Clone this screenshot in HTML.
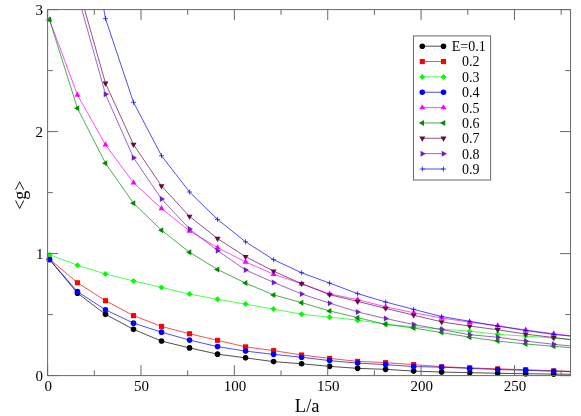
<!DOCTYPE html>
<html><head><meta charset="utf-8"><title>chart</title>
<style>html,body{margin:0;padding:0;background:#fff}body{width:581px;height:416px;position:relative;overflow:hidden;font-family:"Liberation Serif",serif}</style></head>
<body>
<svg width="581" height="416" viewBox="0 0 581 416" style="position:absolute;left:0;top:0;will-change:transform">
<defs><clipPath id="c"><rect x="47.60" y="9.60" width="522.90" height="366.00"/></clipPath></defs>
<rect width="581" height="416" fill="#fff"/>
<polyline clip-path="url(#c)" points="49.47,259.46 77.48,293.13 105.49,314.36 133.50,329.36 161.52,341.07 189.53,347.91 217.54,354.13 245.55,357.86 273.57,361.61 301.58,363.77 329.59,366.35 357.61,368.35 385.62,369.35 413.63,371.09 441.64,372.06 469.66,372.67 497.67,373.28 525.68,373.71 553.69,374.08 581.71,374.38" fill="none" stroke="#000000" stroke-width="0.7"/>
<circle cx="49.47" cy="259.46" r="2.80" fill="#000000"/>
<circle cx="77.48" cy="293.13" r="2.80" fill="#000000"/>
<circle cx="105.49" cy="314.36" r="2.80" fill="#000000"/>
<circle cx="133.50" cy="329.36" r="2.80" fill="#000000"/>
<circle cx="161.52" cy="341.07" r="2.80" fill="#000000"/>
<circle cx="189.53" cy="347.91" r="2.80" fill="#000000"/>
<circle cx="217.54" cy="354.13" r="2.80" fill="#000000"/>
<circle cx="245.55" cy="357.86" r="2.80" fill="#000000"/>
<circle cx="273.57" cy="361.61" r="2.80" fill="#000000"/>
<circle cx="301.58" cy="363.77" r="2.80" fill="#000000"/>
<circle cx="329.59" cy="366.35" r="2.80" fill="#000000"/>
<circle cx="357.61" cy="368.35" r="2.80" fill="#000000"/>
<circle cx="385.62" cy="369.35" r="2.80" fill="#000000"/>
<circle cx="413.63" cy="371.09" r="2.80" fill="#000000"/>
<circle cx="441.64" cy="372.06" r="2.80" fill="#000000"/>
<circle cx="469.66" cy="372.67" r="2.80" fill="#000000"/>
<circle cx="497.67" cy="373.28" r="2.80" fill="#000000"/>
<circle cx="525.68" cy="373.71" r="2.80" fill="#000000"/>
<circle cx="553.69" cy="374.08" r="2.80" fill="#000000"/>
<polyline clip-path="url(#c)" points="49.47,259.09 77.48,282.76 105.49,300.69 133.50,315.64 161.52,326.43 189.53,333.75 217.54,340.34 245.55,346.87 273.57,350.61 301.58,354.98 329.59,358.36 357.61,361.36 385.62,362.61 413.63,364.62 441.64,366.69 469.66,367.85 497.67,368.85 525.68,369.70 553.69,370.84 581.71,371.45" fill="none" stroke="#ff0000" stroke-width="0.7"/>
<rect x="46.92" y="256.54" width="5.10" height="5.10" fill="#ff0000"/>
<rect x="74.93" y="280.21" width="5.10" height="5.10" fill="#ff0000"/>
<rect x="102.94" y="298.14" width="5.10" height="5.10" fill="#ff0000"/>
<rect x="130.95" y="313.09" width="5.10" height="5.10" fill="#ff0000"/>
<rect x="158.97" y="323.88" width="5.10" height="5.10" fill="#ff0000"/>
<rect x="186.98" y="331.20" width="5.10" height="5.10" fill="#ff0000"/>
<rect x="214.99" y="337.79" width="5.10" height="5.10" fill="#ff0000"/>
<rect x="243.00" y="344.32" width="5.10" height="5.10" fill="#ff0000"/>
<rect x="271.02" y="348.06" width="5.10" height="5.10" fill="#ff0000"/>
<rect x="299.03" y="352.43" width="5.10" height="5.10" fill="#ff0000"/>
<rect x="327.04" y="355.81" width="5.10" height="5.10" fill="#ff0000"/>
<rect x="355.06" y="358.81" width="5.10" height="5.10" fill="#ff0000"/>
<rect x="383.07" y="360.06" width="5.10" height="5.10" fill="#ff0000"/>
<rect x="411.08" y="362.07" width="5.10" height="5.10" fill="#ff0000"/>
<rect x="439.09" y="364.14" width="5.10" height="5.10" fill="#ff0000"/>
<rect x="467.11" y="365.30" width="5.10" height="5.10" fill="#ff0000"/>
<rect x="495.12" y="366.30" width="5.10" height="5.10" fill="#ff0000"/>
<rect x="523.13" y="367.15" width="5.10" height="5.10" fill="#ff0000"/>
<rect x="551.14" y="368.29" width="5.10" height="5.10" fill="#ff0000"/>
<polyline clip-path="url(#c)" points="49.47,254.70 77.48,265.19 105.49,273.97 133.50,280.93 161.52,287.39 189.53,294.10 217.54,299.35 245.55,304.11 273.57,309.11 301.58,314.23 329.59,317.16 357.61,320.14 385.62,324.12 413.63,326.80 441.64,329.12 469.66,331.13 497.67,334.36 525.68,336.10 553.69,338.02 581.71,340.55" fill="none" stroke="#00ff00" stroke-width="0.7"/>
<polygon points="49.47,251.70 52.47,254.70 49.47,257.70 46.47,254.70" fill="#00ff00"/>
<polygon points="77.48,262.19 80.48,265.19 77.48,268.19 74.48,265.19" fill="#00ff00"/>
<polygon points="105.49,270.97 108.49,273.97 105.49,276.97 102.49,273.97" fill="#00ff00"/>
<polygon points="133.50,277.93 136.50,280.93 133.50,283.93 130.50,280.93" fill="#00ff00"/>
<polygon points="161.52,284.39 164.52,287.39 161.52,290.39 158.52,287.39" fill="#00ff00"/>
<polygon points="189.53,291.10 192.53,294.10 189.53,297.10 186.53,294.10" fill="#00ff00"/>
<polygon points="217.54,296.35 220.54,299.35 217.54,302.35 214.54,299.35" fill="#00ff00"/>
<polygon points="245.55,301.11 248.55,304.11 245.55,307.11 242.55,304.11" fill="#00ff00"/>
<polygon points="273.57,306.11 276.57,309.11 273.57,312.11 270.57,309.11" fill="#00ff00"/>
<polygon points="301.58,311.23 304.58,314.23 301.58,317.23 298.58,314.23" fill="#00ff00"/>
<polygon points="329.59,314.16 332.59,317.16 329.59,320.16 326.59,317.16" fill="#00ff00"/>
<polygon points="357.61,317.14 360.61,320.14 357.61,323.14 354.61,320.14" fill="#00ff00"/>
<polygon points="385.62,321.12 388.62,324.12 385.62,327.12 382.62,324.12" fill="#00ff00"/>
<polygon points="413.63,323.80 416.63,326.80 413.63,329.80 410.63,326.80" fill="#00ff00"/>
<polygon points="441.64,326.12 444.64,329.12 441.64,332.12 438.64,329.12" fill="#00ff00"/>
<polygon points="469.66,328.13 472.66,331.13 469.66,334.13 466.66,331.13" fill="#00ff00"/>
<polygon points="497.67,331.36 500.67,334.36 497.67,337.36 494.67,334.36" fill="#00ff00"/>
<polygon points="525.68,333.10 528.68,336.10 525.68,339.10 522.68,336.10" fill="#00ff00"/>
<polygon points="553.69,335.02 556.69,338.02 553.69,341.02 550.69,338.02" fill="#00ff00"/>
<polyline clip-path="url(#c)" points="49.47,259.46 77.48,291.66 105.49,309.84 133.50,323.14 161.52,332.17 189.53,340.10 217.54,346.61 245.55,351.11 273.57,354.37 301.58,357.24 329.59,360.61 357.61,363.11 385.62,364.62 413.63,366.57 441.64,367.18 469.66,368.40 497.67,369.50 525.68,370.29 553.69,371.24 581.71,371.94" fill="none" stroke="#0000ff" stroke-width="0.7"/>
<circle cx="49.47" cy="259.46" r="2.80" fill="#0000ff"/>
<circle cx="77.48" cy="291.66" r="2.80" fill="#0000ff"/>
<circle cx="105.49" cy="309.84" r="2.80" fill="#0000ff"/>
<circle cx="133.50" cy="323.14" r="2.80" fill="#0000ff"/>
<circle cx="161.52" cy="332.17" r="2.80" fill="#0000ff"/>
<circle cx="189.53" cy="340.10" r="2.80" fill="#0000ff"/>
<circle cx="217.54" cy="346.61" r="2.80" fill="#0000ff"/>
<circle cx="245.55" cy="351.11" r="2.80" fill="#0000ff"/>
<circle cx="273.57" cy="354.37" r="2.80" fill="#0000ff"/>
<circle cx="301.58" cy="357.24" r="2.80" fill="#0000ff"/>
<circle cx="329.59" cy="360.61" r="2.80" fill="#0000ff"/>
<circle cx="357.61" cy="363.11" r="2.80" fill="#0000ff"/>
<circle cx="385.62" cy="364.62" r="2.80" fill="#0000ff"/>
<circle cx="413.63" cy="366.57" r="2.80" fill="#0000ff"/>
<circle cx="441.64" cy="367.18" r="2.80" fill="#0000ff"/>
<circle cx="469.66" cy="368.40" r="2.80" fill="#0000ff"/>
<circle cx="497.67" cy="369.50" r="2.80" fill="#0000ff"/>
<circle cx="525.68" cy="370.29" r="2.80" fill="#0000ff"/>
<circle cx="553.69" cy="371.24" r="2.80" fill="#0000ff"/>
<polyline clip-path="url(#c)" points="49.47,19.73 77.48,95.00 105.49,144.78 133.50,182.72 161.52,208.46 189.53,230.91 217.54,247.62 245.55,261.90 273.57,274.16 301.58,283.73 329.59,293.86 357.61,299.64 385.62,306.85 413.63,312.65 441.64,318.02 469.66,322.16 497.67,325.70 525.68,329.97 553.69,333.78 581.71,336.99" fill="none" stroke="#ff00ff" stroke-width="0.7"/>
<polygon points="49.47,16.26 46.47,21.46 52.47,21.46" fill="#ff00ff"/>
<polygon points="77.48,91.54 74.48,96.73 80.48,96.73" fill="#ff00ff"/>
<polygon points="105.49,141.31 102.49,146.51 108.49,146.51" fill="#ff00ff"/>
<polygon points="133.50,179.25 130.50,184.45 136.50,184.45" fill="#ff00ff"/>
<polygon points="161.52,205.00 158.52,210.19 164.52,210.19" fill="#ff00ff"/>
<polygon points="189.53,227.44 186.53,232.64 192.53,232.64" fill="#ff00ff"/>
<polygon points="217.54,244.16 214.54,249.35 220.54,249.35" fill="#ff00ff"/>
<polygon points="245.55,258.43 242.55,263.63 248.55,263.63" fill="#ff00ff"/>
<polygon points="273.57,270.69 270.57,275.89 276.57,275.89" fill="#ff00ff"/>
<polygon points="301.58,280.27 298.58,285.47 304.58,285.47" fill="#ff00ff"/>
<polygon points="329.59,290.40 326.59,295.59 332.59,295.59" fill="#ff00ff"/>
<polygon points="357.61,296.18 354.61,301.37 360.61,301.37" fill="#ff00ff"/>
<polygon points="385.62,303.39 382.62,308.59 388.62,308.59" fill="#ff00ff"/>
<polygon points="413.63,309.18 410.63,314.38 416.63,314.38" fill="#ff00ff"/>
<polygon points="441.64,314.55 438.64,319.75 444.64,319.75" fill="#ff00ff"/>
<polygon points="469.66,318.70 466.66,323.90 472.66,323.90" fill="#ff00ff"/>
<polygon points="497.67,322.24 494.67,327.43 500.67,327.43" fill="#ff00ff"/>
<polygon points="525.68,326.51 522.68,331.70 528.68,331.70" fill="#ff00ff"/>
<polygon points="553.69,330.31 550.69,335.51 556.69,335.51" fill="#ff00ff"/>
<polyline clip-path="url(#c)" points="49.47,19.73 77.48,108.30 105.49,163.20 133.50,203.21 161.52,230.18 189.53,252.26 217.54,269.46 245.55,283.12 273.57,294.90 301.58,302.64 329.59,310.94 357.61,317.65 385.62,324.36 413.63,328.02 441.64,332.60 469.66,337.18 497.67,341.07 525.68,343.97 553.69,346.32 581.71,348.55" fill="none" stroke="#008b00" stroke-width="0.7"/>
<polygon points="46.00,19.73 51.20,16.73 51.20,22.73" fill="#008b00"/>
<polygon points="74.02,108.30 79.21,105.30 79.21,111.30" fill="#008b00"/>
<polygon points="102.03,163.20 107.22,160.20 107.22,166.20" fill="#008b00"/>
<polygon points="130.04,203.21 135.24,200.21 135.24,206.21" fill="#008b00"/>
<polygon points="158.05,230.18 163.25,227.18 163.25,233.18" fill="#008b00"/>
<polygon points="186.07,252.26 191.26,249.26 191.26,255.26" fill="#008b00"/>
<polygon points="214.08,269.46 219.27,266.46 219.27,272.46" fill="#008b00"/>
<polygon points="242.09,283.12 247.29,280.12 247.29,286.12" fill="#008b00"/>
<polygon points="270.10,294.90 275.30,291.90 275.30,297.90" fill="#008b00"/>
<polygon points="298.12,302.64 303.31,299.64 303.31,305.64" fill="#008b00"/>
<polygon points="326.13,310.94 331.32,307.94 331.32,313.94" fill="#008b00"/>
<polygon points="354.14,317.65 359.34,314.65 359.34,320.65" fill="#008b00"/>
<polygon points="382.15,324.36 387.35,321.36 387.35,327.36" fill="#008b00"/>
<polygon points="410.17,328.02 415.36,325.02 415.36,331.02" fill="#008b00"/>
<polygon points="438.18,332.60 443.37,329.60 443.37,335.60" fill="#008b00"/>
<polygon points="466.19,337.18 471.39,334.18 471.39,340.18" fill="#008b00"/>
<polygon points="494.20,341.07 499.40,338.07 499.40,344.07" fill="#008b00"/>
<polygon points="522.22,343.97 527.41,340.97 527.41,346.97" fill="#008b00"/>
<polygon points="550.23,346.32 555.42,343.32 555.42,349.32" fill="#008b00"/>
<polyline clip-path="url(#c)" points="49.47,-185.60 77.48,-15.65 105.49,83.29 133.50,144.53 161.52,186.01 189.53,216.39 217.54,238.59 245.55,256.65 273.57,271.17 301.58,283.61 329.59,294.65 357.61,301.42 385.62,308.38 413.63,315.15 441.64,321.86 469.66,326.12 497.67,329.73 525.68,334.12 553.69,337.54 581.71,340.95" fill="none" stroke="#670748" stroke-width="0.7"/>
<polygon points="105.49,86.75 102.49,81.56 108.49,81.56" fill="#670748"/>
<polygon points="133.50,148.00 130.50,142.80 136.50,142.80" fill="#670748"/>
<polygon points="161.52,189.48 158.52,184.28 164.52,184.28" fill="#670748"/>
<polygon points="189.53,219.85 186.53,214.66 192.53,214.66" fill="#670748"/>
<polygon points="217.54,242.06 214.54,236.86 220.54,236.86" fill="#670748"/>
<polygon points="245.55,260.11 242.55,254.92 248.55,254.92" fill="#670748"/>
<polygon points="273.57,274.63 270.57,269.44 276.57,269.44" fill="#670748"/>
<polygon points="301.58,287.08 298.58,281.88 304.58,281.88" fill="#670748"/>
<polygon points="329.59,298.12 326.59,292.92 332.59,292.92" fill="#670748"/>
<polygon points="357.61,304.89 354.61,299.69 360.61,299.69" fill="#670748"/>
<polygon points="385.62,311.84 382.62,306.65 388.62,306.65" fill="#670748"/>
<polygon points="413.63,318.61 410.63,313.42 416.63,313.42" fill="#670748"/>
<polygon points="441.64,325.32 438.64,320.13 444.64,320.13" fill="#670748"/>
<polygon points="469.66,329.58 466.66,324.38 472.66,324.38" fill="#670748"/>
<polygon points="497.67,333.19 494.67,328.00 500.67,328.00" fill="#670748"/>
<polygon points="525.68,337.58 522.68,332.39 528.68,332.39" fill="#670748"/>
<polygon points="553.69,341.00 550.69,335.80 556.69,335.80" fill="#670748"/>
<polyline clip-path="url(#c)" points="49.47,-161.20 77.48,-6.02 105.49,94.27 133.50,157.71 161.52,198.94 189.53,228.96 217.54,250.67 245.55,269.95 273.57,282.39 301.58,293.98 329.59,303.13 357.61,311.92 385.62,318.50 413.63,324.54 441.64,329.57 469.66,334.73 497.67,337.23 525.68,341.07 553.69,344.34 581.71,346.91" fill="none" stroke="#7221bc" stroke-width="0.7"/>
<polygon points="108.96,94.27 103.76,91.27 103.76,97.27" fill="#7221bc"/>
<polygon points="136.97,157.71 131.77,154.71 131.77,160.71" fill="#7221bc"/>
<polygon points="164.98,198.94 159.79,195.94 159.79,201.94" fill="#7221bc"/>
<polygon points="192.99,228.96 187.80,225.96 187.80,231.96" fill="#7221bc"/>
<polygon points="221.01,250.67 215.81,247.67 215.81,253.67" fill="#7221bc"/>
<polygon points="249.02,269.95 243.82,266.95 243.82,272.95" fill="#7221bc"/>
<polygon points="277.03,282.39 271.84,279.39 271.84,285.39" fill="#7221bc"/>
<polygon points="305.04,293.98 299.85,290.98 299.85,296.98" fill="#7221bc"/>
<polygon points="333.06,303.13 327.86,300.13 327.86,306.13" fill="#7221bc"/>
<polygon points="361.07,311.92 355.87,308.92 355.87,314.92" fill="#7221bc"/>
<polygon points="389.08,318.50 383.89,315.50 383.89,321.50" fill="#7221bc"/>
<polygon points="417.09,324.54 411.90,321.54 411.90,327.54" fill="#7221bc"/>
<polygon points="445.11,329.57 439.91,326.57 439.91,332.57" fill="#7221bc"/>
<polygon points="473.12,334.73 467.92,331.73 467.92,337.73" fill="#7221bc"/>
<polygon points="501.13,337.23 495.94,334.23 495.94,340.23" fill="#7221bc"/>
<polygon points="529.14,341.07 523.95,338.07 523.95,344.07" fill="#7221bc"/>
<polygon points="557.16,344.34 551.96,341.34 551.96,347.34" fill="#7221bc"/>
<polyline clip-path="url(#c)" points="49.47,-417.40 77.48,-136.80 105.49,18.63 133.50,102.32 161.52,155.76 189.53,191.99 217.54,219.44 245.55,241.77 273.57,259.70 301.58,272.75 329.59,283.12 357.61,293.62 385.62,302.03 413.63,309.35 441.64,316.55 469.66,321.27 497.67,326.10 525.68,330.51 553.69,334.36 581.71,337.26" fill="none" stroke="#0000ff" stroke-width="0.7"/>
<path d="M102.94 18.63H108.04M105.49 16.08V21.18" stroke="#0000ff" stroke-width="0.7" fill="none"/>
<path d="M130.95 102.32H136.06M133.50 99.77V104.87" stroke="#0000ff" stroke-width="0.7" fill="none"/>
<path d="M158.97 155.76H164.07M161.52 153.21V158.31" stroke="#0000ff" stroke-width="0.7" fill="none"/>
<path d="M186.98 191.99H192.08M189.53 189.44V194.54" stroke="#0000ff" stroke-width="0.7" fill="none"/>
<path d="M214.99 219.44H220.09M217.54 216.89V221.99" stroke="#0000ff" stroke-width="0.7" fill="none"/>
<path d="M243.00 241.77H248.10M245.55 239.22V244.32" stroke="#0000ff" stroke-width="0.7" fill="none"/>
<path d="M271.02 259.70H276.12M273.57 257.15V262.25" stroke="#0000ff" stroke-width="0.7" fill="none"/>
<path d="M299.03 272.75H304.13M301.58 270.20V275.30" stroke="#0000ff" stroke-width="0.7" fill="none"/>
<path d="M327.04 283.12H332.14M329.59 280.57V285.67" stroke="#0000ff" stroke-width="0.7" fill="none"/>
<path d="M355.06 293.62H360.16M357.61 291.07V296.17" stroke="#0000ff" stroke-width="0.7" fill="none"/>
<path d="M383.07 302.03H388.17M385.62 299.48V304.58" stroke="#0000ff" stroke-width="0.7" fill="none"/>
<path d="M411.08 309.35H416.18M413.63 306.80V311.90" stroke="#0000ff" stroke-width="0.7" fill="none"/>
<path d="M439.09 316.55H444.19M441.64 314.00V319.10" stroke="#0000ff" stroke-width="0.7" fill="none"/>
<path d="M467.11 321.27H472.21M469.66 318.72V323.82" stroke="#0000ff" stroke-width="0.7" fill="none"/>
<path d="M495.12 326.10H500.22M497.67 323.55V328.65" stroke="#0000ff" stroke-width="0.7" fill="none"/>
<path d="M523.13 330.51H528.23M525.68 327.96V333.06" stroke="#0000ff" stroke-width="0.7" fill="none"/>
<path d="M551.14 334.36H556.24M553.69 331.81V336.91" stroke="#0000ff" stroke-width="0.7" fill="none"/>
<path d="M47.60 375.60v-10.50M47.60 9.60v10.50M94.29 375.60v-5.20M94.29 9.60v5.20M140.97 375.60v-10.50M140.97 9.60v10.50M187.66 375.60v-5.20M187.66 9.60v5.20M234.35 375.60v-10.50M234.35 9.60v10.50M281.04 375.60v-5.20M281.04 9.60v5.20M327.73 375.60v-10.50M327.73 9.60v10.50M374.41 375.60v-5.20M374.41 9.60v5.20M421.10 375.60v-10.50M421.10 9.60v10.50M467.79 375.60v-5.20M467.79 9.60v5.20M514.48 375.60v-10.50M514.48 9.60v10.50M561.16 375.60v-5.20M561.16 9.60v5.20M47.60 375.60h10.50M570.50 375.60h-10.50M47.60 314.60h5.20M570.50 314.60h-5.20M47.60 253.60h10.50M570.50 253.60h-10.50M47.60 192.60h5.20M570.50 192.60h-5.20M47.60 131.60h10.50M570.50 131.60h-10.50M47.60 70.60h5.20M570.50 70.60h-5.20M47.60 9.60h10.50M570.50 9.60h-10.50" stroke="#686868" stroke-width="1" fill="none"/>
<rect x="47.60" y="9.60" width="522.90" height="366.00" fill="none" stroke="#686868" stroke-width="1"/>
<text x="48.20" y="391.3" font-size="15" text-anchor="middle" font-family="Liberation Serif, serif" fill="#000">0</text>
<text x="141.57" y="391.3" font-size="15" text-anchor="middle" font-family="Liberation Serif, serif" fill="#000">50</text>
<text x="234.95" y="391.3" font-size="15" text-anchor="middle" font-family="Liberation Serif, serif" fill="#000">100</text>
<text x="328.33" y="391.3" font-size="15" text-anchor="middle" font-family="Liberation Serif, serif" fill="#000">150</text>
<text x="421.70" y="391.3" font-size="15" text-anchor="middle" font-family="Liberation Serif, serif" fill="#000">200</text>
<text x="515.08" y="391.3" font-size="15" text-anchor="middle" font-family="Liberation Serif, serif" fill="#000">250</text>
<text x="42.9" y="380.80" font-size="15" text-anchor="end" font-family="Liberation Serif, serif" fill="#000">0</text>
<text x="43.4" y="258.80" font-size="15" text-anchor="end" font-family="Liberation Serif, serif" fill="#000">1</text>
<text x="42.9" y="136.80" font-size="15" text-anchor="end" font-family="Liberation Serif, serif" fill="#000">2</text>
<text x="42.9" y="14.80" font-size="15" text-anchor="end" font-family="Liberation Serif, serif" fill="#000">3</text>
<text x="307.2" y="411.9" font-size="18.5" text-anchor="middle" font-family="Liberation Serif, serif" fill="#000">L/a</text>
<text transform="translate(25.5,195.2) rotate(-90)" font-size="18" text-anchor="middle" font-family="Liberation Serif, serif" fill="#000">&lt;g&gt;</text>
<rect x="413.5" y="35.9" width="77.1" height="144.1" fill="#fff" stroke="#686868" stroke-width="1"/>
<path d="M422.3 46.20H443.5" stroke="#000000" stroke-width="0.7"/>
<circle cx="422.30" cy="46.20" r="2.80" fill="#000000"/>
<circle cx="443.50" cy="46.20" r="2.80" fill="#000000"/>
<text x="451.7" y="51.10" font-size="14" font-family="Liberation Serif, serif" fill="#000">E=0.1</text>
<path d="M422.3 61.55H443.5" stroke="#ff0000" stroke-width="0.7"/>
<rect x="419.75" y="59.00" width="5.10" height="5.10" fill="#ff0000"/>
<rect x="440.95" y="59.00" width="5.10" height="5.10" fill="#ff0000"/>
<text x="462.1" y="66.45" font-size="14" font-family="Liberation Serif, serif" fill="#000">0.2</text>
<path d="M422.3 76.90H443.5" stroke="#00ff00" stroke-width="0.7"/>
<polygon points="422.30,73.90 425.30,76.90 422.30,79.90 419.30,76.90" fill="#00ff00"/>
<polygon points="443.50,73.90 446.50,76.90 443.50,79.90 440.50,76.90" fill="#00ff00"/>
<text x="462.1" y="81.80" font-size="14" font-family="Liberation Serif, serif" fill="#000">0.3</text>
<path d="M422.3 92.25H443.5" stroke="#0000ff" stroke-width="0.7"/>
<circle cx="422.30" cy="92.25" r="2.80" fill="#0000ff"/>
<circle cx="443.50" cy="92.25" r="2.80" fill="#0000ff"/>
<text x="462.1" y="97.15" font-size="14" font-family="Liberation Serif, serif" fill="#000">0.4</text>
<path d="M422.3 107.60H443.5" stroke="#ff00ff" stroke-width="0.7"/>
<polygon points="422.30,104.14 419.30,109.33 425.30,109.33" fill="#ff00ff"/>
<polygon points="443.50,104.14 440.50,109.33 446.50,109.33" fill="#ff00ff"/>
<text x="462.1" y="112.50" font-size="14" font-family="Liberation Serif, serif" fill="#000">0.5</text>
<path d="M422.3 122.95H443.5" stroke="#008b00" stroke-width="0.7"/>
<polygon points="418.84,122.95 424.03,119.95 424.03,125.95" fill="#008b00"/>
<polygon points="440.04,122.95 445.23,119.95 445.23,125.95" fill="#008b00"/>
<text x="462.1" y="127.85" font-size="14" font-family="Liberation Serif, serif" fill="#000">0.6</text>
<path d="M422.3 138.30H443.5" stroke="#670748" stroke-width="0.7"/>
<polygon points="422.30,141.76 419.30,136.57 425.30,136.57" fill="#670748"/>
<polygon points="443.50,141.76 440.50,136.57 446.50,136.57" fill="#670748"/>
<text x="462.1" y="143.20" font-size="14" font-family="Liberation Serif, serif" fill="#000">0.7</text>
<path d="M422.3 153.65H443.5" stroke="#7221bc" stroke-width="0.7"/>
<polygon points="425.76,153.65 420.57,150.65 420.57,156.65" fill="#7221bc"/>
<polygon points="446.96,153.65 441.77,150.65 441.77,156.65" fill="#7221bc"/>
<text x="462.1" y="158.55" font-size="14" font-family="Liberation Serif, serif" fill="#000">0.8</text>
<path d="M422.3 169.00H443.5" stroke="#0000ff" stroke-width="0.7"/>
<path d="M419.75 169.00H424.85M422.30 166.45V171.55" stroke="#0000ff" stroke-width="0.7" fill="none"/>
<path d="M440.95 169.00H446.05M443.50 166.45V171.55" stroke="#0000ff" stroke-width="0.7" fill="none"/>
<text x="462.1" y="173.90" font-size="14" font-family="Liberation Serif, serif" fill="#000">0.9</text>
</svg>
</body></html>
